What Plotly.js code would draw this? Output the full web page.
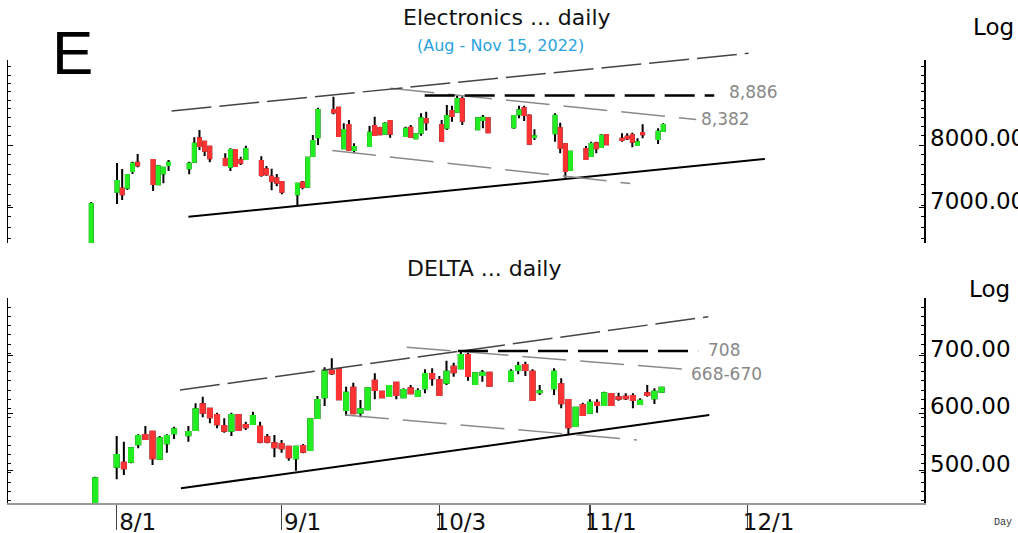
<!DOCTYPE html>
<html><head><meta charset="utf-8">
<script src="https://cdn.plot.ly/plotly-3.0.1.min.js"></script>
<style>html,body{margin:0;padding:0;background:#fff;} #chart{width:1018px;height:533px;}</style>
</head><body><div id="chart"></div>
<script>
// ---------------- data ----------------
const dates = ['2022-07-27','2022-08-01','2022-08-02','2022-08-03','2022-08-04','2022-08-05','2022-08-08','2022-08-09','2022-08-10','2022-08-11','2022-08-15','2022-08-16','2022-08-17','2022-08-18','2022-08-19','2022-08-22','2022-08-23','2022-08-24','2022-08-25','2022-08-26','2022-08-29','2022-08-30','2022-08-31','2022-09-01','2022-09-02','2022-09-05','2022-09-06','2022-09-07','2022-09-08','2022-09-09','2022-09-12','2022-09-13','2022-09-14','2022-09-15','2022-09-16','2022-09-19','2022-09-20','2022-09-21','2022-09-22','2022-09-23','2022-09-26','2022-09-27','2022-09-28','2022-09-29','2022-09-30','2022-10-03','2022-10-04','2022-10-05','2022-10-06','2022-10-07','2022-10-10','2022-10-11','2022-10-12','2022-10-17','2022-10-18','2022-10-19','2022-10-20','2022-10-21','2022-10-25','2022-10-26','2022-10-27','2022-10-28','2022-10-31','2022-11-01','2022-11-02','2022-11-03','2022-11-04','2022-11-07','2022-11-08','2022-11-09','2022-11-10','2022-11-11','2022-11-14','2022-11-15'];

const elecOpen  = [6400,7246,7292,7307,7571,7705,7750,7360,7534,7668,7614,7722,8114,8056,7971,7766,7640,7916,7745,7766,7733,7598,7480,7454,7396,7206,7385,7323,7816,8132,8616,8658,7944,8347,7916,7983,8329,8294,8194,8418,8155,8299,8114,8211,8453,8347,8299,8598,8586,8820,8270,8436,8466,8306,8538,8648,8512,8135,8201,8289,8012,7587,7933,7816,8029,7966,8172,8108,8143,8172,8000,8206,8103,8242];
const elecHigh  = [7088,7700,7603,7523,7722,7849,7761,7668,7640,7750,7722,8132,8259,8068,7983,7861,7944,7920,7805,7988,7810,7651,7608,7523,7400,7385,7412,7795,8172,8658,8863,8677,8377,8436,8029,8329,8495,8317,8395,8422,8317,8347,8201,8556,8586,8436,8708,8695,8886,8870,8484,8526,8477,8526,8695,8695,8538,8270,8556,8387,8029,7900,7983,8056,8056,8184,8180,8201,8201,8211,8114,8358,8289,8377];
const elecLow   = [6380,7059,7119,7272,7523,7630,7257,7350,7376,7571,7518,7705,7916,7816,7712,7647,7571,7640,7668,7750,7480,7496,7267,7329,7206,7044,7283,7318,7805,8000,8538,8143,7933,7904,7861,7971,8160,8172,8184,8126,8143,8138,8103,8160,8249,8056,8259,8405,8574,8347,8259,8289,8206,8282,8466,8418,8012,8085,8056,7861,7464,7576,7750,7805,7861,7954,8000,8056,8085,7961,7988,8114,8017,8229];
const elecClose = [7059,7412,7206,7507,7689,7663,7365,7647,7624,7705,7689,8022,7983,7904,7777,7668,7916,7651,7705,7933,7507,7518,7412,7385,7246,7370,7318,7788,8068,8616,8574,8155,8259,7916,7966,8211,8172,8184,8370,8194,8282,8143,8184,8466,8394,8068,8507,8507,8820,8423,8466,8477,8218,8507,8611,8526,8022,8150,8512,7954,7571,7888,7766,8017,7944,8160,8012,8085,8114,8056,8046,8184,8229,8347];

const deltaOpen  = [430,506.6,513.6,515.3,545.6,561.7,567.5,520.5,547.3,564.7,561.2,570.4,615.1,607.5,596.5,577.4,569.2,596.5,579.1,580.9,576.2,557.7,547.3,546.1,541.4,521.2,542.6,535.7,591.3,627.3,673.6,676,605.2,644,600.5,606.4,656.2,637,629.6,652.7,627.3,643,629.6,643,667.8,657.4,652.7,680.5,677.7,700.9,650.4,666.1,670.1,656.2,674.8,683.5,671.8,636,643,649.9,622.6,577.4,613.9,600.5,617.9,613.9,633,627.3,628.3,629.6,615.7,634.3,625.6,637];
const deltaHigh  = [489.2,560,550.1,540.4,563,577.4,568,560,563,576.2,577.4,616.9,628.3,608.2,600.5,590.8,600.5,597,584.9,602.3,584.9,563.5,561.7,553,542,542.6,546.1,589.5,629.6,679.5,695.1,677.7,645.7,652.7,622.6,643.5,669,638.8,648.7,654.4,643,648.7,643,676,677.7,664.3,691,687.5,708,705,670,674.8,670.8,676,689.2,689.2,676,648.7,677.7,660.3,623.8,610.4,617.9,623.8,623.8,637,634.3,635.3,634.3,634.3,625.6,648.7,643,645.7];
const deltaLow   = [428,484.7,492.2,512.5,538.6,553,509.6,519.5,531,554.8,550,569.2,592.5,582.1,573.4,565.7,560,569.2,570.4,579.1,547.3,547.3,523,531,517.1,499.7,529.9,535,590.8,612.2,666.1,622.6,594.8,598.3,592.5,605.5,623.8,625.6,628.3,623.8,625.6,633,628.3,634.3,647.5,629.6,648.7,663.1,676,656.2,649.5,654.4,647,654.4,667.3,664.3,621.4,631.3,631.3,608.2,563.5,576.2,594.8,599.5,600.5,612.7,612.7,621.4,622.6,608.2,615.1,628.3,615.7,636];
const deltaClose = [486.4,527,503.8,538.6,560,554.8,521.2,556,560,571.7,567,606.4,600.5,592.5,580.3,569.2,596.5,570.4,575.1,594.8,550.1,550.1,540.4,538.6,523,541.4,532.7,589,622.6,673.6,669,623.8,635.3,599.5,606.4,643,640,627.3,647,631.3,640,634.3,638.3,667.8,660.3,631.3,671.8,670.8,700.9,664.3,669,670.1,647.5,671.8,681.8,674.8,622.6,638,671.8,616.9,575.1,609.2,596.5,617.9,613.9,634.3,613.9,624.9,625.6,622.6,621.4,631.3,637,644];

const tickDates  = ['2022-08-01','2022-09-01','2022-10-03','2022-11-01','2022-12-01'];
const tickLabels = ['8/1','9/1','10/3','11/1','12/1'];
const elecTickVals  = [7000, 8000];
const elecTickText  = ['7000.00','8000.00'];
const deltaTickVals = [500, 600, 700];
const deltaTickText = ['500.00','600.00','700.00'];

// trend lines (date, value)
const elecSupportX = ['2022-08-12 20:24','2022-12-02 17:17'], elecSupportY = [6871, 7766];
const elecUpperX   = ['2022-08-11 14:10','2022-12-01 13:26'], elecUpperY   = [8598, 9718];
const elecResX     = ['2022-09-29 17:00','2022-11-24 21:36'], elecResY     = [8886, 8886];
const elecDescX    = ['2022-09-23 01:12','2022-11-21 09:36'], elecDescY    = [9022, 8444];
const elecLowX     = ['2022-09-09 18:00','2022-11-08 14:24'], elecLowY     = [7907, 7373];

const deltaSupportX = ['2022-08-11 23:17','2022-11-23 15:36'], deltaSupportY = [469.1, 596.5];
const deltaUpperX   = ['2022-08-11 20:00','2022-11-23 12:14'], deltaUpperY   = [640, 767.5];
const deltaResX     = ['2022-10-05 14:24','2022-11-22 02:24'], deltaResY     = [708, 708];
const deltaDescX    = ['2022-09-26 10:48','2022-11-17 20:10'], deltaDescY    = [714.3, 676.5];
const deltaLowX     = ['2022-09-13 20:10','2022-11-09 13:41'], deltaLowY     = [596.5, 553];

// ---------------- helpers ----------------
const GREEN = '#22ee22', RED = '#ff3333';
function shift(s){ // centre a point in its weekday slot (weekend skipped)
  const iso = s.length <= 10 ? s + 'T00:00:00Z' : s.replace(' ', 'T') + ':00Z';
  let t = Date.parse(iso) + 12*3600e3;
  const wd = new Date(t).getUTCDay();
  if (wd === 6) t += 2*86400e3; else if (wd === 0) t += 86400e3;
  return new Date(t).toISOString().slice(0,16).replace('T',' ');
}
const xs = dates.map(shift);
function candles(o,h,l,c,xa,ya){
  const bh = o.map((v,i)=>Math.max(v,c[i])), bl = o.map((v,i)=>Math.min(v,c[i]));
  const blk = {line:{color:'#000',width:2}, fillcolor:'#000'};
  return [
    {type:'candlestick', x:xs, open:o, high:h, low:l, close:c, xaxis:xa, yaxis:ya,
     increasing:blk, decreasing:blk, whiskerwidth:0, hoverinfo:'skip', showlegend:false},
    {type:'candlestick', x:xs, open:o, high:bh, low:bl, close:c, xaxis:xa, yaxis:ya,
     increasing:{line:{color:GREEN,width:2}, fillcolor:GREEN},
     decreasing:{line:{color:RED,width:2}, fillcolor:RED},
     whiskerwidth:0, hoverinfo:'skip', showlegend:false}
  ];
}
function tline(x,y,xa,ya,color,width,dash){
  return {type:'scatter', mode:'lines', x:x.map(shift), y:y, xaxis:xa, yaxis:ya,
          line:{color:color, width:width, dash:dash||'solid'}, hoverinfo:'skip', showlegend:false};
}

const traces = [
  tline(elecUpperX, elecUpperY, 'x', 'y3', '#444', 1.5, '40px,8px'),
  tline(elecSupportX, elecSupportY, 'x', 'y', '#000', 2),
  tline(elecDescX, elecDescY, 'x', 'y', '#8a8a8a', 1.5, '44px,14px'),
  tline(elecLowX, elecLowY, 'x', 'y', '#8a8a8a', 1.5, '44px,14px'),
  tline(elecResX, elecResY, 'x', 'y', '#000', 2.5, '30px,10px'),
  tline(deltaSupportX, deltaSupportY, 'x2', 'y2', '#000', 2),
  tline(deltaUpperX, deltaUpperY, 'x2', 'y2', '#444', 1.5, '40px,8px'),
  tline(deltaDescX, deltaDescY, 'x2', 'y2', '#8a8a8a', 1.5, '44px,14px'),
  tline(deltaLowX, deltaLowY, 'x2', 'y2', '#8a8a8a', 1.5, '44px,14px'),
  tline(deltaResX, deltaResY, 'x2', 'y2', '#000', 2.5, '30px,10px'),
  ...candles(elecOpen, elecHigh, elecLow, elecClose, 'x', 'y'),
  ...candles(deltaOpen, deltaHigh, deltaLow, deltaClose, 'x2', 'y2')
];

// ---------------- layout ----------------
const L = 8, T = 40, PW = 916, PH = 463;
const px = v => (v - L) / PW;
const py = v => (T + PH - v) / PH;
const xRange = [shift('2022-07-08 20:10'), shift('2023-01-04 14:24')];
const minorTop = []; for (let v = 6560; v <= 9600; v += 160) minorTop.push(v);
const rb = [{bounds:['sat','mon']}];

function ann(text, x, y, font, xanchor){
  return {text:text, x:px(x), y:py(y), xref:'paper', yref:'paper', showarrow:false,
          xanchor:xanchor||'center', yanchor:'middle', font:font};
}

const layout = {
  width:1018, height:533, margin:{l:L, r:94, t:T, b:30},
  paper_bgcolor:'#fff', plot_bgcolor:'rgba(0,0,0,0)',
  font:{family:'DejaVu Sans', color:'#000'},
  showlegend:false, boxgap:0.2, boxmode:'overlay',
  xaxis:{type:'date', anchor:'y', range:xRange, rangebreaks:rb, visible:false,
         rangeslider:{visible:false}, showgrid:false, zeroline:false},
  yaxis:{type:'log', domain:[py(243), py(60)], range:[3.81285, 3.98136], anchor:'x', side:'right',
         showline:true, linecolor:'#000', linewidth:1.5, mirror:'ticks',
         ticks:'inside', ticklen:5, tickwidth:1, tickcolor:'#000',
         tickmode:'array', tickvals:elecTickVals, ticktext:elecTickText,
         tickfont:{size:23, color:'#000'}, ticklabelshift:-7,
         showgrid:false, zeroline:false,
         minor:{ticks:'inside', ticklen:3, tickcolor:'#000', tickmode:'array', tickvals:minorTop}},
  yaxis3:{type:'log', domain:[py(243), 1], range:[3.81285, 3.99977], anchor:'x', visible:false},
  xaxis2:{type:'date', anchor:'y2', range:xRange, rangebreaks:rb, rangeslider:{visible:false},
          showline:true, linecolor:'#999', linewidth:2,
          ticks:'outside', ticklen:25, tickwidth:1.5, tickcolor:'#444',
          tickmode:'array', tickvals:tickDates.map(shift), ticktext:tickLabels,
          tickfont:{size:23, color:'#111'}, ticklabelshift:21, ticklabelstandoff:-28,
          showgrid:false, zeroline:false},
  yaxis2:{type:'linear', domain:[0, py(298)], range:[443.5, 800], anchor:'x2', side:'right',
          showline:true, linecolor:'#000', linewidth:1.5, mirror:'ticks',
          ticks:'inside', ticklen:5, tickwidth:1, tickcolor:'#000',
          tickmode:'array', tickvals:deltaTickVals, ticktext:deltaTickText,
          tickfont:{size:23, color:'#000'}, ticklabelshift:-7,
          showgrid:false, zeroline:false,
          minor:{ticks:'inside', ticklen:3, tickcolor:'#000', dtick:16}},
  annotations:[
    ann('E', 72.5, 52, {family:'Liberation Sans, Arial', size:62, color:'#000'}),
    ann('Electronics ... daily', 506.5, 18, {size:22, color:'#111'}),
    ann('(Aug - Nov 15, 2022)', 500, 46, {size:16, color:'#29a3e0'}),
    ann('Log', 993, 27, {size:23, color:'#000'}),
    ann('DELTA ... daily', 485, 268.5, {size:22, color:'#111'}),
    ann('Log', 990, 289, {size:23, color:'#000'}),
    ann('Day', 1003, 522, {family:'Liberation Mono, DejaVu Sans Mono', size:10, color:'#333'}),
    ann('8,886', 727, 91.7, {size:17, color:'#888'}, 'left'),
    ann('8,382', 699, 119, {size:17, color:'#888'}, 'left'),
    ann('708', 706, 349.6, {size:17, color:'#888'}, 'left'),
    ann('668-670', 689, 374, {size:17, color:'#888'}, 'left')
  ]
};

Plotly.newPlot('chart', traces, layout, {displayModeBar:false, staticPlot:true});
</script>
</body></html>
